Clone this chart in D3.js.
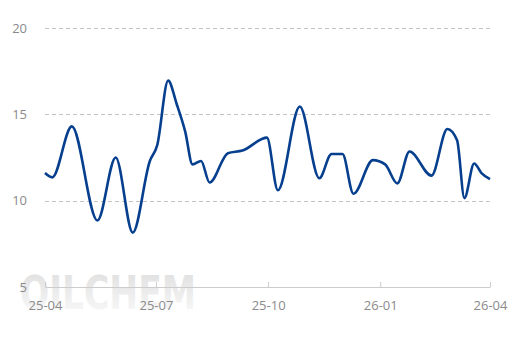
<!DOCTYPE html>
<html><head><meta charset="utf-8">
<script src="https://cdn.jsdelivr.net/npm/d3@7"></script>
<style>body{margin:0;background:#fff}svg{display:block}</style>
</head><body>
<svg id="c" width="514" height="343"></svg>
<script>
const dates = ["2025-04-01","2025-04-07","2025-04-23","2025-05-14","2025-05-29","2025-06-12","2025-06-26","2025-07-02","2025-07-11","2025-07-18","2025-07-25","2025-07-31","2025-08-07","2025-08-14","2025-08-29","2025-09-10","2025-09-30","2025-10-09","2025-10-27","2025-11-12","2025-11-22","2025-12-01","2025-12-10","2025-12-26","2026-01-05","2026-01-15","2026-01-25","2026-02-12","2026-02-25","2026-03-05","2026-03-11","2026-03-19","2026-03-25","2026-04-01"];
const values = [11.6,11.35,14.3,8.85,12.5,8.15,12.3,13.2,16.95,15.6,14.0,12.1,12.3,11.05,12.75,12.9,13.65,10.6,15.45,11.3,12.7,12.7,10.4,12.35,12.1,11.0,12.85,11.45,14.15,13.5,10.15,12.15,11.6,11.25];
const xTicks = ["2025-04-01","2025-07-01","2025-10-01","2026-01-01","2026-04-01"];
const yTicks = [5,10,15,20];

const parse = d3.utcParse("%Y-%m-%d");
const fmt = d3.utcFormat("%y-%m");
const data = dates.map((d,i)=>({d:parse(d), v:values[i]}));
const svg = d3.select("#c");
const L=45,R=490,T=28,B=287;
const x = d3.scaleUtc().domain([parse(xTicks[0]), parse(xTicks[xTicks.length-1])]).range([L,R]);
const y = d3.scaleLinear().domain([5,20]).range([B,T]);
const font = "'Open Sans', 'DejaVu Sans', sans-serif";

// watermark (behind everything)
const defs = svg.append("defs");
const g = defs.append("linearGradient").attr("id","wm").attr("x1",0).attr("y1",0).attr("x2",0).attr("y2",1);
g.append("stop").attr("offset","0%").attr("stop-color","#c8c8c8");
g.append("stop").attr("offset","100%").attr("stop-color","#fafafa");
svg.append("text").attr("x",20).attr("y",309).attr("font-family","'DejaVu Sans Condensed','DejaVu Sans',sans-serif")
  .attr("font-weight","bold").attr("font-size",46).attr("textLength",176).attr("lengthAdjust","spacingAndGlyphs")
  .attr("fill","url(#wm)").attr("opacity",0.6).text("OILCHEM");

// grid
svg.append("g").selectAll("line").data(yTicks.filter(t=>t>5)).join("line")
  .attr("x1",L).attr("x2",R).attr("y1",d=>Math.round(y(d))+0.5).attr("y2",d=>Math.round(y(d))+0.5)
  .attr("stroke","#c4c4c4").attr("stroke-dasharray","4,3").attr("stroke-width",1);

// y labels
svg.append("g").selectAll("text").data(yTicks).join("text")
  .attr("x",27).attr("y",d=>y(d)).attr("dy","0.35em").attr("text-anchor","end")
  .attr("font-family",font).attr("font-size",13).attr("fill","#8a8a8a").text(d=>d);

// x axis
const xa = svg.append("g").attr("transform",`translate(0,${B})`)
  .call(d3.axisBottom(x).tickValues(xTicks.map(parse)).tickFormat(fmt).tickSizeInner(-5).tickSizeOuter(0).tickPadding(14));
xa.select(".domain").attr("stroke","#cccccc");
xa.selectAll(".tick line").attr("stroke","#cccccc");
xa.selectAll("text").attr("font-family",font).attr("font-size",13).attr("fill","#8a8a8a");

// line
svg.append("path").datum(data)
  .attr("d", d3.line().x(d=>x(d.d)).y(d=>y(d.v)).curve(d3.curveMonotoneX))
  .attr("fill","none").attr("stroke","#073f8f").attr("stroke-width",2.6).attr("stroke-linejoin","round");
</script>
</body></html>
